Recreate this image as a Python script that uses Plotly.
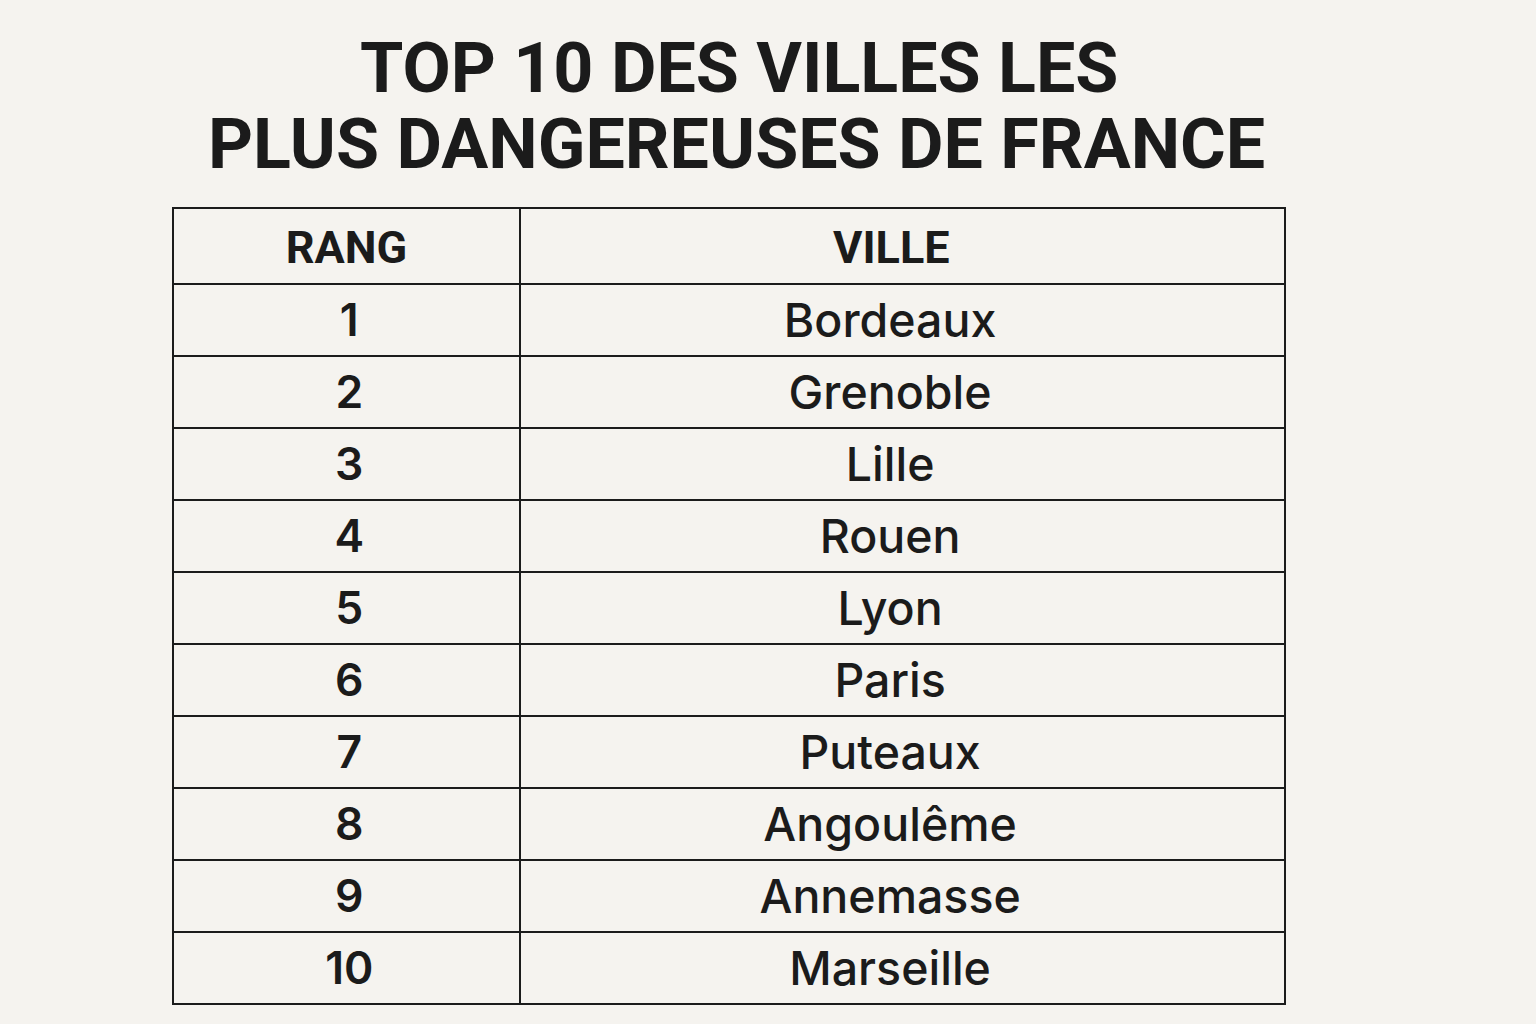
import plotly.graph_objects as go

title_lines = ["TOP 10 DES VILLES LES", "PLUS DANGEREUSES DE FRANCE"]
headers = ["RANG", "VILLE"]
ranks = ["1", "2", "3", "4", "5", "6", "7", "8", "9", "10"]
cities = ["Bordeaux", "Grenoble", "Lille", "Rouen", "Lyon", "Paris",
          "Puteaux", "Angoulême", "Annemasse", "Marseille"]

W, H = 1536, 1024
BG = "#f5f3ef"
INK = "#1b1b1b"

# Plotly tables put text at the top of each cell; a tiny leading line
# pushes the real text down so it sits in the middle of the row.
SPACER = '<span style="font-size:1px">\u00a0</span><br>'


def cell_text(txt, size, lead="", trail=""):
    return (f'{SPACER}{lead}<span style="font-size:{size}px">'
            f'{txt}{trail}</span>')


NB = "\u00a0"
LEAD_R = '<span style="font-size:22px">\u00a0</span>'

header_vals = [cell_text(headers[0], 45),
               cell_text(headers[1], 45, trail=NB * 2)]
rank_vals = [cell_text(r, 44.5, lead=LEAD_R) for r in ranks]
city_vals = [cell_text(c, 46.5, trail=NB * 2) for c in cities]

fig = go.Figure(go.Table(
    domain=dict(x=[173 / W, 1285 / W], y=[0.0, 1 - 208 / H]),
    columnwidth=[347, 765],
    header=dict(
        values=header_vals,
        height=76,
        align="center",
        fill_color=BG,
        line=dict(color=INK, width=2.7),
        font=dict(family="Roboto, Arial", size=35.4, color=INK, weight=700),
    ),
    cells=dict(
        values=[rank_vals, city_vals],
        height=71.7,
        align="center",
        fill_color=BG,
        line=dict(color=INK, width=2.7),
        font=dict(family=["Inter", "Inter"], size=[33.0, 33.0],
                  color=INK, weight=[600, 500]),
    ),
))

for txt, xc, ytop in [(title_lines[0], 739, 25), (title_lines[1], 736, 101)]:
    fig.add_annotation(
        text=txt, x=xc / W, y=1 - ytop / H, xref="paper", yref="paper",
        xanchor="center", yanchor="top", showarrow=False,
        font=dict(family="Roboto, Arial", size=70, color=INK, weight=700),
    )

fig.update_layout(
    width=W, height=H,
    margin=dict(l=0, r=0, t=0, b=0),
    paper_bgcolor=BG, plot_bgcolor=BG,
)

fig.write_html("out.html",
               config={"displayModeBar": False},
               post_script="document.body.style.margin='0';"
                           "document.body.style.background='" + BG + "';")
